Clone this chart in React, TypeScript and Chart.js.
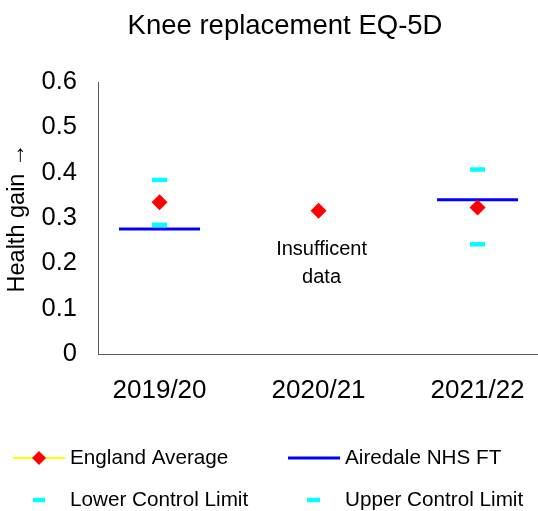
import React, { useEffect, useRef } from "react";
import { Chart, registerables } from "chart.js";

Chart.register(...registerables);

const chartTitle = "Knee replacement EQ-5D";
const yAxisTitle = "Health gain \u2192";
const categories = ["2019/20", "2020/21", "2021/22"];
const englandAverage = [0.335, 0.316, 0.323];
const airedale: (number | null)[] = [0.276, null, 0.34];
const lowerControlLimit: (number | null)[] = [0.285, null, 0.242];
const upperControlLimit: (number | null)[] = [0.384, null, 0.407];
const yTickValues = [0, 0.1, 0.2, 0.3, 0.4, 0.5, 0.6];
const seriesNames = ["England Average", "Airedale NHS FT", "Lower Control Limit", "Upper Control Limit"];
const annotationLines = ["Insufficent", "data"];
const annotationCategory = 1;
const annotationValue = 0.2;

const FONT = '"Liberation Sans", Arial, Helvetica, sans-serif';
const RED = "#FF0000";
const BLUE = "#0000FF";
const CYAN = "#00FFFF";
const YELLOW = "#FFFF00";
const AXIS = "#595959";

const toPoints = (arr: (number | null)[]) => arr.map((v, i) => ({ x: i, y: v }));

const overlayPlugin = {
  id: "overlay",
  afterDraw(chart: any) {
    const ctx = chart.ctx as CanvasRenderingContext2D;
    const xs = chart.scales.x;
    const ys = chart.scales.y;
    ctx.save();
    ctx.fillStyle = "#000";
    ctx.textBaseline = "middle";

    // title
    ctx.font = `27.5px ${FONT}`;
    ctx.textAlign = "center";
    ctx.fillText(chartTitle, 285, 26);

    // annotation
    const ax = xs.getPixelForValue(annotationCategory) + 3;
    const ay = ys.getPixelForValue(annotationValue);
    ctx.font = `20px ${FONT}`;
    ctx.fillText(annotationLines[0], ax, ay - 14);
    ctx.fillText(annotationLines[1], ax, ay + 14);

    // legend
    ctx.textAlign = "left";
    const colX = [13, 288];
    const rowY = [458, 500];
    // item 1: England Average
    ctx.strokeStyle = YELLOW;
    ctx.lineWidth = 2;
    ctx.beginPath();
    ctx.moveTo(colX[0], rowY[0]);
    ctx.lineTo(colX[0] + 52, rowY[0]);
    ctx.stroke();
    const dx = colX[0] + 26;
    ctx.fillStyle = RED;
    ctx.beginPath();
    ctx.moveTo(dx, rowY[0] - 7);
    ctx.lineTo(dx + 7, rowY[0]);
    ctx.lineTo(dx, rowY[0] + 7);
    ctx.lineTo(dx - 7, rowY[0]);
    ctx.closePath();
    ctx.fill();
    // item 2: Airedale
    ctx.strokeStyle = BLUE;
    ctx.lineWidth = 3;
    ctx.beginPath();
    ctx.moveTo(colX[1], rowY[0]);
    ctx.lineTo(colX[1] + 52, rowY[0]);
    ctx.stroke();
    // items 3,4: control limits
    ctx.strokeStyle = CYAN;
    ctx.lineWidth = 4.5;
    ctx.beginPath();
    ctx.moveTo(colX[0] + 20, rowY[1]);
    ctx.lineTo(colX[0] + 32, rowY[1]);
    ctx.moveTo(colX[1] + 19, rowY[1]);
    ctx.lineTo(colX[1] + 32, rowY[1]);
    ctx.stroke();

    ctx.fillStyle = "#000";
    ctx.font = `20.7px ${FONT}`;
    ctx.fillText(seriesNames[0], colX[0] + 57, rowY[0]);
    ctx.fillText(seriesNames[1], colX[1] + 57, rowY[0]);
    ctx.fillText(seriesNames[2], colX[0] + 57, rowY[1]);
    ctx.fillText(seriesNames[3], colX[1] + 57, rowY[1]);
    ctx.restore();
  },
};

export default function App() {
  const canvasRef = useRef<HTMLCanvasElement | null>(null);

  useEffect(() => {
    if (!canvasRef.current) return;
    const chart = new Chart(canvasRef.current, {
      type: "scatter",
      data: {
        datasets: [
          {
            label: seriesNames[0],
            data: toPoints(englandAverage),
            pointStyle: "rectRot",
            pointRadius: 8,
            backgroundColor: RED,
            borderColor: RED,
            borderWidth: 0,
            showLine: false,
            order: 0,
          },
          {
            label: seriesNames[1],
            data: toPoints(airedale),
            pointStyle: "line",
            pointRadius: 40.5,
            borderColor: BLUE,
            backgroundColor: BLUE,
            borderWidth: 3,
            showLine: false,
            order: 1,
          },
          {
            label: seriesNames[2],
            data: toPoints(lowerControlLimit),
            pointStyle: "line",
            pointRadius: 7.5,
            borderColor: CYAN,
            backgroundColor: CYAN,
            borderWidth: 4.5,
            showLine: false,
            order: 2,
          },
          {
            label: seriesNames[3],
            data: toPoints(upperControlLimit),
            pointStyle: "line",
            pointRadius: 7.5,
            borderColor: CYAN,
            backgroundColor: CYAN,
            borderWidth: 4.5,
            showLine: false,
            order: 3,
          },
        ],
      },
      options: {
        responsive: false,
        animation: false,
        devicePixelRatio: 1,
        layout: { autoPadding: false, padding: { left: 0, right: 0, top: 82, bottom: 100 } },
        plugins: {
          legend: { display: false },
          title: { display: false },
          tooltip: { enabled: false },
        },
        scales: {
          x: {
            type: "linear",
            min: -0.387,
            max: 2.38,
            afterBuildTicks: (s: any) => {
              s.ticks = categories.map((_, i) => ({ value: i }));
            },
            ticks: {
              callback: (v: any) => categories[v as number] ?? "",
              font: { family: FONT, size: 26 },
              color: "#000",
              padding: 21,
              maxRotation: 0,
              autoSkip: false,
            },
            grid: { display: false, drawTicks: false },
            border: { display: true, color: AXIS, width: 1 },
            afterFit: (s: any) => {
              s.height = 57;
              s.paddingLeft = 0;
              s.paddingRight = 0;
            },
          },
          y: {
            type: "linear",
            min: 0,
            max: 0.6,
            afterBuildTicks: (s: any) => {
              s.ticks = yTickValues.map((v) => ({ value: v }));
            },
            ticks: {
              callback: (v: any) => `${v}`,
              font: { family: FONT, size: 25.5 },
              color: "#000",
              padding: 21,
            },
            title: {
              display: true,
              text: yAxisTitle,
              font: { family: FONT, size: 23.5 },
              color: "#000",
              padding: { top: 3, bottom: 0 },
            },
            grid: { display: false, drawTicks: false },
            border: { display: true, color: AXIS, width: 1 },
            afterFit: (s: any) => {
              s.width = 98;
            },
          },
        },
      },
      plugins: [overlayPlugin],
    } as any);
    return () => chart.destroy();
  }, []);

  return (
    <div style={{ position: "absolute", left: 0, top: 0, width: 538, height: 511, background: "#fff" }}>
      <canvas ref={canvasRef} width={538} height={511} />
    </div>
  );
}
